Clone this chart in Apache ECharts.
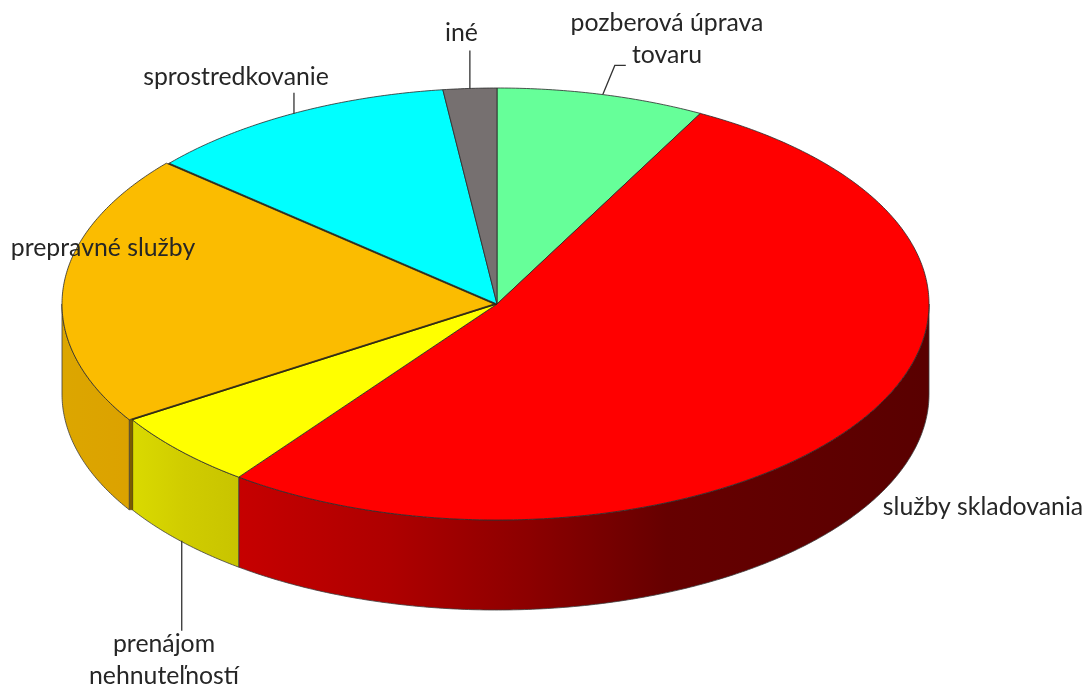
<!DOCTYPE html>
<html><head><meta charset="utf-8">
<style>html,body{margin:0;padding:0;background:#fff}#c{width:1086px;height:687px}</style>
<script src="https://cdn.jsdelivr.net/npm/echarts@6/dist/echarts.min.js"></script>
</head><body><div id="c"></div>
<script>
const categories = ['pozberová úprava\ntovaru','služby skladovania','prenájom\nnehnuteľností','prepravné služby','sprostredkovanie','iné'];
const values = [7.8, 52.4, 5.8, 20.3, 11.7, 2.0];

const topColors = ['#66ff99','#ff0000','#ffff00','#fbbc00','#00ffff','#767070'];
const sideStops = [
  [[0,'#5a9'],[1,'#5a9']],
  [[0,'#c60000'],[0.22,'#ae0000'],[0.42,'#8c0000'],[0.62,'#660000'],[1,'#590000']],
  [[0,'#dada00'],[0.5,'#d0cc00'],[1,'#c8c400']],
  [[0,'#dca600'],[1,'#dca200']],
  [[0,'#0aa'],[1,'#0aa']],
  [[0,'#555'],[1,'#555']]
];
const explodeX = [0,0,0,-3,0,0];
const labelLayout = [
  {x:667,y:39,anchorDx:1,leader:[[12,-29],[23,-29]],rim:false},
  {x:983,y:507,leader:null},
  {x:164,y:660,anchorDx:1.5,leader:[[0,90]],rim:true},
  {x:103,y:248,leader:null},
  {x:236,y:77,anchorDx:1.5,leader:[[0,-21]],rim:false},
  {x:461.5,y:33,anchorDx:0,leader:[[0,-38]],rim:false}
];
const CX=497, CY=304, RX=432, RY=216, DEPTH=90;
const FONT='24.8px Lato, "Open Sans", sans-serif';
const total = values.reduce((a,b)=>a+b,0);
const starts = []; values.reduce((acc,v,i)=>{starts[i]=acc;return acc+v/total*360;},0);
function rim(t,dy){const r=t*Math.PI/180;return [CX+RX*Math.sin(r),CY-RY*Math.cos(r)+(dy||0)];}
function arc(a,b,dy){const pts=[];const n=Math.max(2,Math.ceil((b-a)*2));for(let i=0;i<=n;i++)pts.push(rim(a+(b-a)*i/n,dy));return pts;}

function renderSlice(params,api){
  const i=params.dataIndex, a=starts[i], b=a+api.value(0)/total*360, ex=explodeX[i];
  const children=[];
  const top=[[CX,CY]].concat(arc(a,b,0));
  if(ex){
    // the pulled-out slice leaves a dark cut behind it
    const p=rim(a,0);
    children.push({type:'polygon',shape:{points:top},style:{fill:'#2e2300',stroke:'#2e2300',lineWidth:0.8}});
    children.push({type:'rect',shape:{x:p[0]+ex,y:p[1],width:-ex+0.5,height:DEPTH},
      style:{fill:'#7a5c00',stroke:'#4a3800',lineWidth:0.5}});
  }
  const moved=[];
  const sa=Math.max(a,90), sb=Math.min(b,270);
  if(sb>sa){
    const pts=arc(sa,sb,0).concat(arc(sa,sb,DEPTH).reverse());
    const stops=sideStops[i].map(s=>({offset:s[0],color:s[1]}));
    moved.push({type:'polygon',shape:{points:pts},
      style:{fill:new echarts.graphic.LinearGradient(0,0,1,0,stops),stroke:'#3c3c3c',lineWidth:0.8}});
  }
  moved.push({type:'polygon',shape:{points:top},style:{fill:topColors[i],stroke:'#2a2a2a',lineWidth:0.8}});
  children.push({type:'group',x:ex,children:moved});
  return {type:'group',children};
}
function renderLabel(params,api){
  const i=params.dataIndex, L=labelLayout[i], children=[];
  if(L.leader){
    const mid=starts[i]+api.value(0)/total*180;
    const p=rim(mid,L.rim?DEPTH:0);
    const p0=[p[0]+L.anchorDx,p[1]];
    const pts=[p0].concat(L.leader.map(d=>[p0[0]+d[0],p0[1]+d[1]]));
    children.push({type:'polyline',shape:{points:pts},style:{fill:null,stroke:'#333',lineWidth:1.3}});
  }
  children.push({type:'text',style:{text:categories[i],x:L.x,y:L.y,font:FONT,fill:'#262626',
    align:'center',verticalAlign:'middle',lineHeight:31.5}});
  return {type:'group',children};
}
const data=values.map((v,i)=>({name:categories[i],value:[v]}));
const chart=echarts.init(document.getElementById('c'),null,{renderer:'canvas'});
chart.setOption({
  animation:false,backgroundColor:'#fff',
  series:[
    {type:'custom',coordinateSystem:'none',renderItem:renderSlice,data,silent:true,z:2},
    {type:'custom',coordinateSystem:'none',renderItem:renderLabel,data,silent:true,z:3}
  ]
});
</script></body></html>
